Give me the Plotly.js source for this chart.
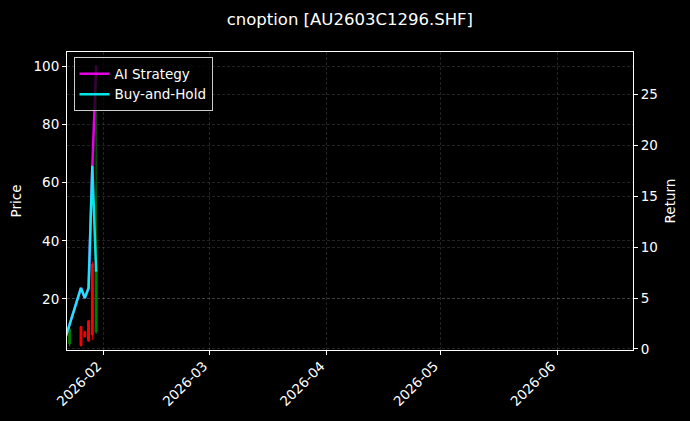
<!DOCTYPE html>
<html>
<head>
<meta charset="utf-8">
<script src="https://cdn.plot.ly/plotly-3.0.1.min.js"></script>
<style>html,body{margin:0;padding:0;background:#000;}#chart{width:690px;height:421px;}</style>
</head>
<body>
<div id="chart"></div>
<script>
// Candlestick (price) data
const candleDates = ['2026-01-23','2026-01-26','2026-01-27','2026-01-28','2026-01-29','2026-01-30'];
const priceOpen  = [4.5, 10.5, 8.7, 12.5, 32.0, 8.7];
const priceHigh  = [10.0, 10.7, 9.0, 12.8, 33.0, 100.3];
const priceLow   = [3.6, 3.6, 6.8, 5.3, 5.9, 8.0];
const priceClose = [9.5, 4.0, 7.0, 5.5, 7.6, 30.0];

// Return series
const returnDates = ['2026-01-22','2026-01-23','2026-01-26','2026-01-27','2026-01-28','2026-01-29','2026-01-30'];
const aiStrategy  = [1.23, 2.4, 6.0, 5.0, 6.0, 18.0, 27.84];
const buyAndHold  = [1.23, 2.4, 6.0, 5.0, 6.0, 18.0, 7.6];

// Tick labels
const xTickVals  = ['2026-02-01','2026-03-01','2026-04-01','2026-05-01','2026-06-01'];
const xTickText  = ['2026-02','2026-03','2026-04','2026-05','2026-06'];

const FONT = 'DejaVu Sans, sans-serif';
const gridCol = 'rgba(255,255,255,0.22)';
const gridDash = '3px,2px';

const traces = [
  {
    type: 'candlestick', x: candleDates,
    open: priceOpen, high: priceHigh, low: priceLow, close: priceClose,
    yaxis: 'y', showlegend: false,
    increasing: {line: {color: '#008000', width: 1}, fillcolor: '#008000'},
    decreasing: {line: {color: '#ff0000', width: 1}, fillcolor: '#ff0000'},
    whiskerwidth: 0
  },
  {
    type: 'scatter', mode: 'lines', name: 'AI Strategy',
    x: returnDates, y: aiStrategy, yaxis: 'y2',
    line: {color: 'rgba(255,0,255,0.9)', width: 2.5}
  },
  {
    type: 'scatter', mode: 'lines', name: 'Buy-and-Hold',
    x: returnDates, y: buyAndHold, yaxis: 'y2',
    line: {color: 'rgba(0,255,255,0.9)', width: 2.5}
  }
];

const layout = {
  width: 690, height: 421,
  paper_bgcolor: '#000000', plot_bgcolor: '#000000',
  font: {family: FONT, color: '#ffffff', size: 13.5},
  margin: {l: 66.5, r: 57, t: 51.5, b: 71, pad: 0},
  title: {text: 'cnoption [AU2603C1296.SHF]', font: {family: FONT, size: 16.5, color: '#ffffff'},
          x: 0.507, xanchor: 'center', y: 0.955, yanchor: 'middle'},
  showlegend: true,
  legend: {x: 0.0115, y: 0.982, xanchor: 'left', yanchor: 'top',
           bgcolor: 'rgba(0,0,0,0.75)', bordercolor: '#cccccc', borderwidth: 1,
           font: {family: FONT, size: 13.5, color: '#ffffff'}, tracegroupgap: 0,
           itemwidth: 30},
  xaxis: {
    type: 'date', range: ['2026-01-22 07:12', '2026-06-20 23:15'],
    rangeslider: {visible: false},
    tickmode: 'array', tickvals: xTickVals, ticktext: xTickText, tickangle: -45,
    ticklabelshift: -6, ticklabelstandoff: -2,
    ticks: 'outside', ticklen: 4, tickcolor: '#ffffff', tickwidth: 1,
    showline: true, linecolor: '#ffffff', linewidth: 1, mirror: true,
    showgrid: true, gridcolor: gridCol, gridwidth: 0.6, griddash: gridDash,
    zeroline: false, tickfont: {family: FONT, size: 13.5, color: '#ffffff'}
  },
  yaxis: {
    range: [2.44, 104.96], tickmode: 'array', tickvals: [20, 40, 60, 80, 100],
    ticks: 'outside', ticklen: 4, tickcolor: '#ffffff',
    showline: true, linecolor: '#ffffff', linewidth: 1, mirror: true,
    showgrid: true, gridcolor: gridCol, gridwidth: 0.6, griddash: gridDash,
    zeroline: false, tickfont: {family: FONT, size: 13.5, color: '#ffffff'},
    title: {text: 'Price', font: {family: FONT, size: 13.5, color: '#ffffff'}, standoff: 8}
  },
  yaxis2: {
    overlaying: 'y', side: 'right', range: [-0.1, 29.17],
    tickmode: 'array', tickvals: [0, 5, 10, 15, 20, 25],
    ticks: 'outside', ticklen: 4, tickcolor: '#ffffff',
    showline: true, linecolor: '#ffffff', linewidth: 1,
    showgrid: true, gridcolor: gridCol, gridwidth: 0.6, griddash: gridDash,
    zeroline: false, tickfont: {family: FONT, size: 13.5, color: '#ffffff'},
    title: {text: 'Return', font: {family: FONT, size: 13.5, color: '#ffffff'}, standoff: 8}
  }
};

Plotly.newPlot('chart', traces, layout, {displayModeBar: false, staticPlot: true});
</script>
</body>
</html>
